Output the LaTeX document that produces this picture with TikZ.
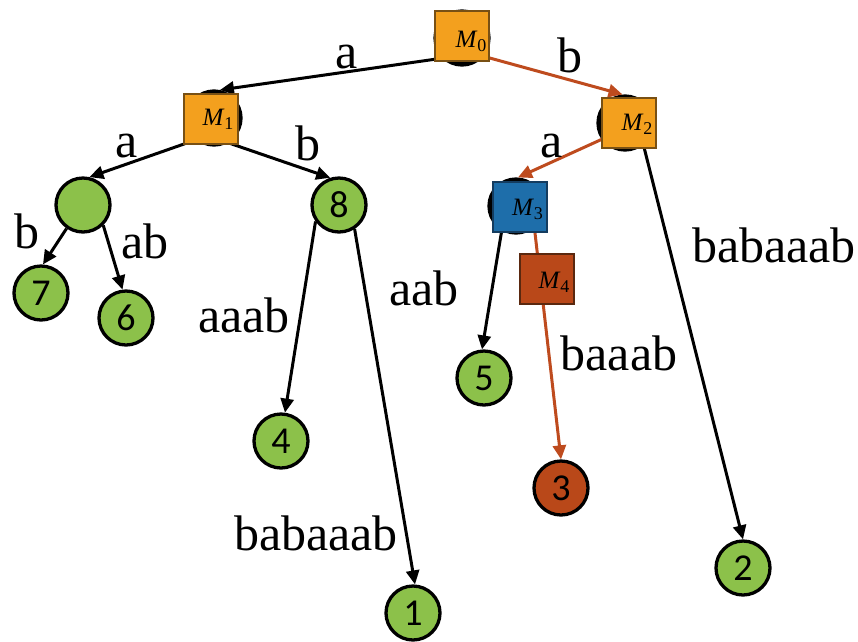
\documentclass[tikz,border=0pt]{standalone}
\usepackage{fontspec}
\setmainfont{Liberation Serif}
\newfontfamily\digitfont{Carlito}
\usetikzlibrary{arrows.meta}

\definecolor{leafgreen}{RGB}{140,193,74}
\definecolor{rust}{RGB}{190,75,30}
\definecolor{rustfill}{RGB}{185,72,25}
\definecolor{rustedge}{RGB}{90,40,15}
\definecolor{amber}{RGB}{243,160,30}
\definecolor{amberedge}{RGB}{120,80,20}
\definecolor{steel}{RGB}{30,110,170}
\definecolor{steeledge}{RGB}{20,60,95}

% italic M with an upright subscript index
\newcommand{\mlabel}[1]{{\fontsize{25}{25}\selectfont\itshape M}\kern1pt\raisebox{-4pt}{\fontsize{18}{18}\selectfont #1}}

\begin{document}
\begin{tikzpicture}[x=1pt,y=-1pt,
  tnode/.style={circle, draw=black, line width=3.3pt, minimum size=54pt, inner sep=0pt,
                font=\digitfont\fontsize{38}{38}\selectfont},
  leaf/.style={tnode, fill=leafgreen},
  inner/.style={tnode, fill=black},
  marker/.style={rectangle, line width=2pt, minimum width=54pt, minimum height=50pt, inner sep=0pt},
  mtext/.style={anchor=base, inner sep=0pt},
  edge/.style={line width=3pt, -{Triangle[length=14pt,width=13pt]}},
  edgelab/.style={anchor=base, inner sep=0pt, font=\fontsize{50}{50}\selectfont},
]
\useasboundingbox (0,0) rectangle (858,641);

% internal tree nodes (covered by the marker squares)
\node[inner] (c0) at (462,38) {};
\node[inner] (c1) at (214,118) {};
\node[inner] (c2) at (625,123) {};
\node[inner] (c3) at (516,206) {};

% remaining nodes and leaves
\node[leaf] (n0) at (83,205) {};
\node[leaf] (n7) at (41,293) {7};
\node[leaf] (n6) at (126,318) {6};
\node[leaf] (n8) at (339,205) {8};
\node[leaf] (n4) at (281,441) {4};
\node[leaf] (n1) at (413,613) {1};
\node[leaf] (n5) at (484,378) {5};
\node[tnode, fill=rustfill] (n3) at (561,488) {3};
\node[leaf] (n2) at (743,568) {2};

% edges
\draw[edge] (c0.225) -- (c1.78);
\draw[edge, rust] (c0.-40) -- (c2.95);
\draw[edge] (c1.230) -- (n0.77);
\draw[edge] (c1.-60) -- (n8.108);
\draw[edge] (n0.235) -- (n7.86);
\draw[edge] (n0.-45) -- (n6.97);
\draw[edge] (n8.215) -- (n4.82);
\draw[edge] (n8.-57) -- (n1.86);
\draw[edge, rust] (c2.215) -- (c3.86);
\draw[edge] (c2.-50) -- (n2.90);
\draw[edge] (c3.240) -- (n5.94);
\draw[edge, rust] (c3.-50) -- (n3.90);

% marker squares
\node[marker, fill=amber, draw=amberedge] (M0) at (462,36) {};
\node[marker, fill=amber, draw=amberedge] (M1) at (211,119) {};
\node[marker, fill=amber, draw=amberedge] (M2) at (629,123) {};
\node[marker, fill=steel, draw=steeledge] (M3) at (519.5,206.5) {};
\node[marker, fill=rustfill, draw=rustedge] (M4) at (546.5,279) {};
\node[mtext] (M0t) at ([shift={(9,11)}]M0.center) {\mlabel{0}};
\node[mtext] (M1t) at ([shift={(7,6)}]M1.center) {\mlabel{1}};
\node[mtext] (M2t) at ([shift={(8,7)}]M2.center) {\mlabel{2}};
\node[mtext] (M3t) at ([shift={(8,8.5)}]M3.center) {\mlabel{3}};
\node[mtext] (M4t) at ([shift={(7.5,9)}]M4.center) {\mlabel{4}};

% edge labels
\node[edgelab] (l01) at (347,68) {a};
\node[edgelab] (l02) at (570,72) {b};
\node[edgelab] (l10) at (127,157) {a};
\node[edgelab] (l18) at (308,160) {b};
\node[edgelab] (l23) at (552,157) {a};
\node[edgelab] (l07) at (27,248) {b};
\node[edgelab] (l06) at (145,258) {ab};
\node[edgelab] (l84) at (244,332) {aaab};
\node[edgelab] (l35) at (424,305) {aab};
\node[edgelab] (l33) at (619,370) {baaab};
\node[edgelab] (l22) at (774,262) {babaaab};
\node[edgelab] (l81) at (316,550) {babaaab};
\end{tikzpicture}
\end{document}
